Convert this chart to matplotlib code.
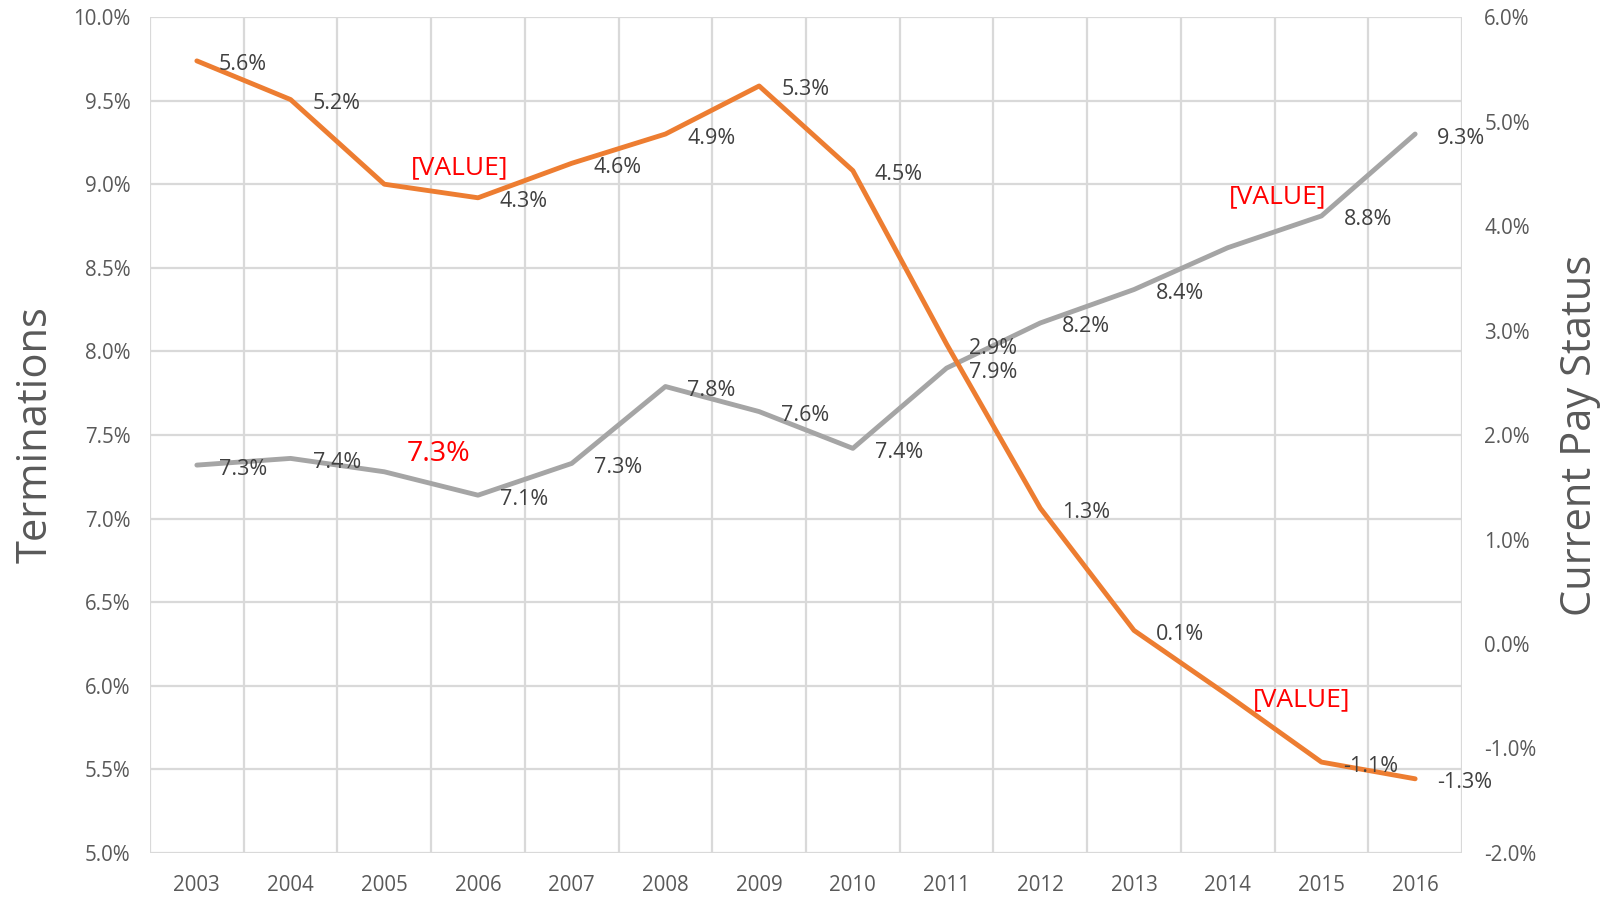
import numpy as np
import matplotlib
matplotlib.use("Agg")
import matplotlib.pyplot as plt
from matplotlib.ticker import FuncFormatter, MultipleLocator

plt.rcParams["font.family"] = ["Open Sans", "DejaVu Sans"]

# ----------------------
# DATA
# ----------------------
years = ["2003", "2004", "2005", "2006", "2007", "2008", "2009",
         "2010", "2011", "2012", "2013", "2014", "2015", "2016"]
terminations = [7.32, 7.36, 7.28, 7.14, 7.33, 7.79, 7.64,
                7.42, 7.90, 8.17, 8.37, 8.62, 8.81, 9.30]
current_pay = [5.58, 5.21, 4.40, 4.27, 4.60, 4.88, 5.34,
               4.53, 2.87, 1.30, 0.13, -0.49, -1.13, -1.29]

# labels that were edited by hand in the original (index -> text)
term_label_text = {2: "7.3%", 11: "[VALUE]"}
pay_label_text = {2: "[VALUE]", 11: "[VALUE]"}

# ----------------------
# STYLE
# ----------------------
GRAY = "#A5A5A5"
ORANGE = "#ED7D31"
TEXT = "#595959"
LABEL = "#404040"
GRID = "#D9D9D9"

# offsets (pixels) and sizes for the hand-edited labels
term_label_style = {2: dict(dx=54, dy=18, size=20.5), 11: dict(dx=50, dy=51, size=19)}
pay_label_style = {2: dict(dx=75, dy=16, size=19), 11: dict(dx=74, dy=-5, size=19)}

fig = plt.figure(figsize=(16.06, 9.0), dpi=100)
ax = fig.add_axes([150 / 1606, 47 / 900, 1312 / 1606, 836 / 900])
ax2 = ax.twinx()

x = np.arange(len(years))

ax.plot(x, terminations, color=GRAY, linewidth=3.5, solid_capstyle="round", zorder=3)
ax2.plot(x, current_pay, color=ORANGE, linewidth=3.5, solid_capstyle="round", zorder=3)

ax.set_xlim(-0.5, len(years) - 0.5)
ax.set_ylim(5.0, 10.0)
ax2.set_ylim(-2.0, 6.0)

ax.set_xticks(x)
ax.set_xticklabels(years)
ax.set_xticks(np.arange(-0.5, len(years)), minor=True)
ax.yaxis.set_major_locator(MultipleLocator(0.5))
ax2.yaxis.set_major_locator(MultipleLocator(1.0))
ax.yaxis.set_major_formatter(FuncFormatter(lambda v, p: f"{v:.1f}%"))
ax2.yaxis.set_major_formatter(FuncFormatter(lambda v, p: f"{v:.1f}%"))

ax.grid(True, which="major", axis="y", color=GRID, linewidth=1.6)
ax.grid(True, which="minor", axis="x", color=GRID, linewidth=1.6)
ax.set_axisbelow(True)

for a in (ax, ax2):
    for s in a.spines.values():
        s.set_visible(False)
    a.tick_params(which="both", length=0, labelsize=14.8, labelcolor=TEXT)
ax.tick_params(axis="x", pad=16)
ax.tick_params(axis="y", pad=14)
ax2.tick_params(axis="y", pad=16)

ax.set_ylabel("Terminations", fontsize=30, color=TEXT, labelpad=12)
ax2.set_ylabel("Current Pay Status", fontsize=30, color=TEXT, labelpad=16)

# ----------------------
# DATA LABELS
# ----------------------
def add_labels(axis, values, texts, styles):
    for i, v in enumerate(values):
        if i in texts:
            st = styles[i]
            axis.annotate(texts[i], (i, v), xytext=(st["dx"], st["dy"]),
                          textcoords="offset pixels", ha="center", va="center",
                          fontsize=st["size"], color="red", zorder=5)
        else:
            axis.annotate(f"{v:.1f}%", (i, v), xytext=(22, -4),
                          textcoords="offset pixels", ha="left", va="center",
                          fontsize=15.5, color=LABEL, zorder=5)

add_labels(ax, terminations, term_label_text, term_label_style)
add_labels(ax2, current_pay, pay_label_text, pay_label_style)

fig.savefig("out.png", dpi=100)
